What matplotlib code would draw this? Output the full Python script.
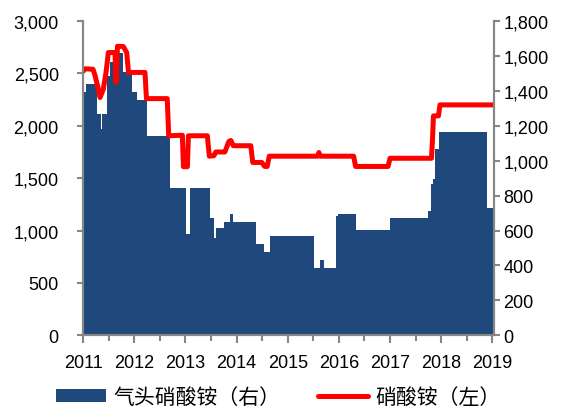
import matplotlib
matplotlib.use("Agg")
import matplotlib.pyplot as plt
import numpy as np
from matplotlib.lines import Line2D
from matplotlib.patches import Patch
from matplotlib.ticker import FuncFormatter, MultipleLocator

# gas-based ammonium nitrate (right axis): segment start (decimal year) and value
gas_start = [2011.000, 2011.059, 2011.267, 2011.345, 2011.371, 2011.462, 2011.527,
             2011.591, 2011.786, 2011.950, 2012.048, 2012.243, 2012.698, 2013.010,
             2013.088, 2013.478, 2013.556, 2013.595, 2013.751, 2013.868, 2013.933,
             2014.376, 2014.532, 2014.649, 2015.507, 2015.624, 2015.702, 2015.937,
             2015.982, 2016.327, 2016.990, 2017.737, 2017.804, 2017.835, 2017.888,
             2017.966, 2018.902]
gas_end = 2019.020
gas_value = [1395, 1439, 1267, 1181, 1267, 1486, 1563,
             1620, 1510, 1395, 1349, 1142, 843, 579,
             843, 671, 556, 613, 648, 694, 648,
             522, 478, 567, 386, 432, 386, 682,
             692, 604, 671, 713, 866, 898, 1070,
             1162, 730]

# ammonium nitrate price (left axis)
an_date = [2011.000, 2011.039, 2011.195, 2011.234, 2011.299, 2011.332, 2011.396,
           2011.449, 2011.494, 2011.624, 2011.644, 2011.673, 2011.786, 2011.853,
           2011.888, 2012.210, 2012.239, 2012.645, 2012.674, 2012.941, 2012.961,
           2013.039, 2013.059, 2013.429, 2013.468, 2013.556, 2013.595, 2013.771,
           2013.849, 2013.888, 2013.937, 2014.278, 2014.317, 2014.493, 2014.551,
           2014.600, 2014.639, 2015.585, 2015.610, 2015.634, 2016.288, 2016.327,
           2016.961, 2017.000, 2017.810, 2017.829, 2017.849, 2017.946, 2017.976,
           2019.020]
an_value = [2520, 2545, 2540, 2480, 2350, 2270, 2350,
            2510, 2700, 2700, 2414, 2760, 2758, 2700,
            2510, 2510, 2260, 2260, 1905, 1910, 1610,
            1610, 1905, 1905, 1710, 1715, 1750, 1750,
            1850, 1860, 1810, 1810, 1650, 1650, 1612,
            1612, 1710, 1710, 1745, 1710, 1710, 1612,
            1612, 1690, 1690, 1860, 2095, 2095, 2200,
            2200]

years = list(range(2011, 2020))

BLUE = "#1f497d"
RED = "#ff0000"
GREY = "#868686"
TICK_FONT = "Liberation Sans"
CJK = ["Noto Sans CJK SC", "DejaVu Sans"]

fig = plt.figure(figsize=(5.69, 4.10), dpi=100)
ax = fig.add_axes([0.146, 0.180, 0.722, 0.766])
ax2 = ax.twinx()

starts = np.array(gas_start)
widths = np.diff(np.append(starts, gas_end))
ax2.bar(starts, gas_value, width=widths, align="edge", color=BLUE, linewidth=0)
ax.plot(an_date, an_value, color=RED, lw=3.6, solid_capstyle="round",
        solid_joinstyle="round")

# keep the price line above the bars
ax.set_zorder(ax2.get_zorder() + 1)
ax.patch.set_visible(False)

ax.set_xlim(2011, 2019.03)
ax.set_ylim(0, 3000)
ax2.set_ylim(0, 1800)
ax.set_xticks(years)
ax.set_xticklabels([str(y) for y in years])
ax.xaxis.set_minor_locator(MultipleLocator(0.5))
ax.yaxis.set_major_locator(MultipleLocator(500))
ax2.yaxis.set_major_locator(MultipleLocator(200))
thousands = FuncFormatter(lambda v, _: f"{int(v):,}")
ax.yaxis.set_major_formatter(thousands)
ax2.yaxis.set_major_formatter(thousands)

for a in (ax, ax2):
    a.spines["top"].set_visible(False)
    for side in ("left", "right", "bottom"):
        a.spines[side].set_color(GREY)
        a.spines[side].set_linewidth(1.5)

ax.tick_params(axis="x", which="major", direction="out", length=5.5, width=1.5,
               color=GREY, pad=8)
ax.tick_params(axis="x", which="minor", direction="out", length=4.3, width=1.5,
               color=GREY)
ax.tick_params(axis="y", direction="out", length=4.5, width=1.5, color=GREY, pad=13)
ax2.tick_params(axis="y", direction="out", length=4, width=1.5, color=GREY, pad=3)
for lab in ax.get_xticklabels() + ax.get_yticklabels() + ax2.get_yticklabels():
    lab.set_fontfamily(TICK_FONT)
    lab.set_fontsize(13)
    lab.set_color("black")

handles = [Patch(facecolor=BLUE, edgecolor="none"),
           Line2D([], [], color=RED, lw=3.6, solid_capstyle="round")]
labels = ["气头硝酸铵（右）", "硝酸铵（左）"]
fig.legend(handles, labels, loc="center", bbox_to_anchor=(0.489, 0.03), ncol=2,
           frameon=False, prop={"family": CJK, "size": 15}, handlelength=2.4,
           handleheight=0.55, handletextpad=0.35, columnspacing=1.8)

fig.savefig("out.png", dpi=100)
plt.close(fig)
